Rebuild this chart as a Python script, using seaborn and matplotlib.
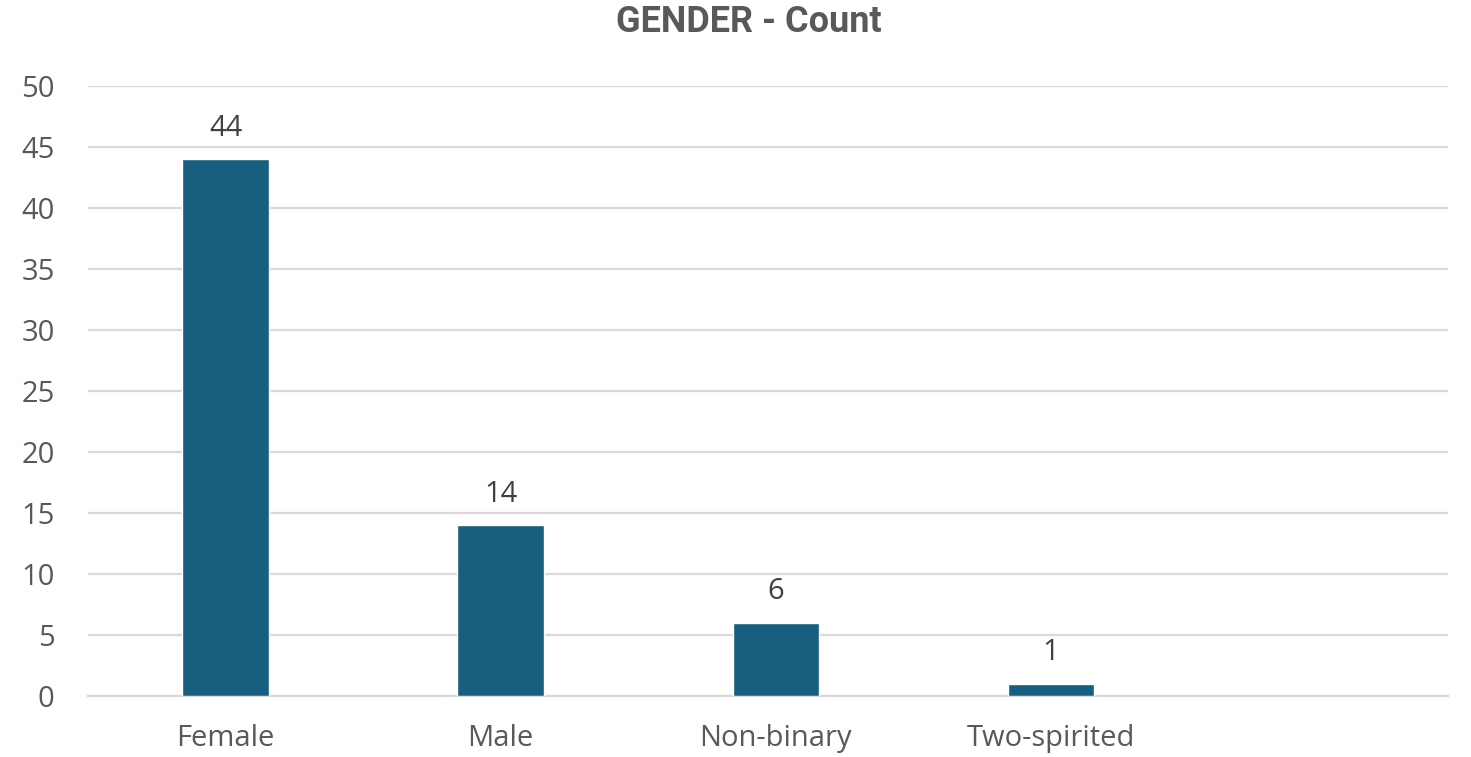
import matplotlib
matplotlib.use("Agg")
import pandas as pd
import seaborn as sns
import matplotlib.pyplot as plt

categories = ["Female", "Male", "Non-binary", "Two-spirited"]
counts = [44, 14, 6, 1]
yticks = [0, 5, 10, 15, 20, 25, 30, 35, 40, 45, 50]

BAR_COLOR = "#175E7F"
TEXT_COLOR = "#595959"
GRID_COLOR = "#D9D9D9"


def main():
    sns.set_style("white")
    plt.rcParams["font.family"] = ["Open Sans", "DejaVu Sans"]

    data = pd.DataFrame({"gender": categories, "count": counts})

    fig = plt.figure(figsize=(14.71, 7.57), dpi=100)
    ax = fig.add_axes([88 / 1471, 1 - 696 / 757, 1360 / 1471, 610 / 757])

    sns.barplot(data=data, x="gender", y="count", color=BAR_COLOR,
                width=0.313, saturation=1, ax=ax, zorder=3)

    # empty slot on the right, like the original chart
    ax.set_xlim(-0.5, 4.445)
    ax.set_ylim(0, 50)
    ax.set_yticks(yticks)
    ax.yaxis.grid(True, color=GRID_COLOR, linewidth=1.6, zorder=0)
    ax.set_axisbelow(True)
    for side in ["top", "right", "left"]:
        ax.spines[side].set_visible(False)
    ax.spines["bottom"].set_color(GRID_COLOR)
    ax.spines["bottom"].set_linewidth(1.6)

    ax.tick_params(axis="both", length=0, colors=TEXT_COLOR)
    ax.tick_params(axis="x", pad=20, labelsize=21)
    ax.tick_params(axis="y", pad=24, labelsize=21)
    ax.set_xlabel("")
    ax.set_ylabel("")

    for container in ax.containers:
        ax.bar_label(container, padding=12, fontsize=21, color="#404040")

    fig.text(749 / 1471, 1 - 22 / 757, "GENDER - Count", ha="center",
             va="center", fontsize=26, fontweight="bold", color=TEXT_COLOR,
             family=["Roboto", "DejaVu Sans"])

    fig.savefig("out.png", dpi=100, facecolor="white")


if __name__ == '__main__':
    main()
